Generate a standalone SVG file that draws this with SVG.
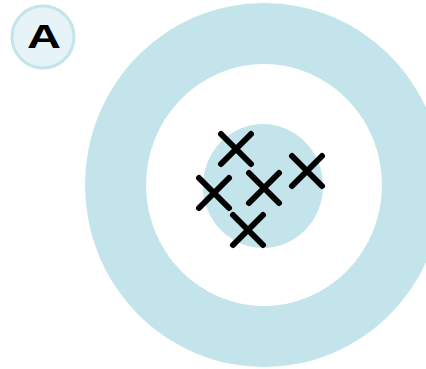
<svg xmlns="http://www.w3.org/2000/svg" width="426" height="369" viewBox="0 0 426 369">
<style>
.ring{fill:#c3e4ea}
.x{stroke:#000;stroke-width:6;stroke-linecap:round;fill:none}
</style>
<rect width="426" height="369" fill="#fff"/>
<g id="target">
<ellipse class="ring" cx="264" cy="185" rx="179" ry="182"/>
<ellipse cx="264" cy="185" rx="118" ry="121" fill="#fff"/>
<ellipse class="ring" cx="263" cy="186" rx="60" ry="62"/>
</g>
<g id="marks">
<path class="x" d="M221,134 L251,164 M251,134 L221,164"/>
<path class="x" d="M199,178 L229,208 M229,178 L199,208"/>
<path class="x" d="M249,173 L279,203 M279,173 L249,203"/>
<path class="x" d="M292,156 L322,186 M322,156 L292,186"/>
<path class="x" d="M233,215 L263,245 M263,215 L233,245"/>
</g>
<g id="label">
<circle cx="43" cy="37" r="31" fill="#e6f4f7" stroke="#c3e4ea" stroke-width="3"/>
<text x="44" y="48" text-anchor="middle" font-family="Liberation Sans, Arial, sans-serif" font-weight="bold" font-size="34" textLength="34" lengthAdjust="spacingAndGlyphs">A</text>
</g>
</svg>
